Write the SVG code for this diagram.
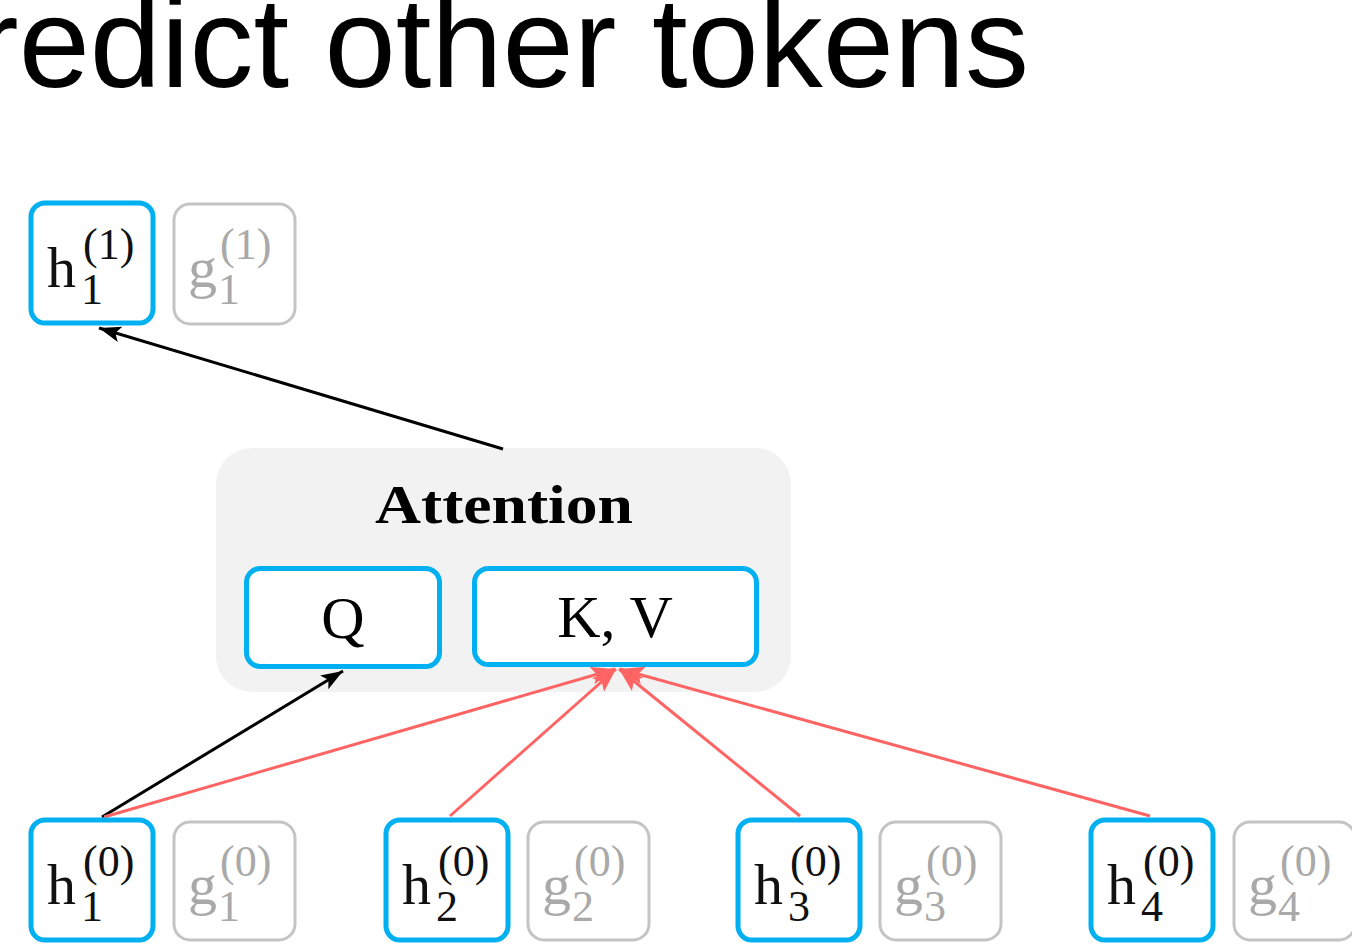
<svg xmlns="http://www.w3.org/2000/svg" width="1352" height="946" viewBox="0 0 1352 946">
  <style>
    .title { font-family: "Liberation Sans", Arial, sans-serif; font-size: 128px; fill: #000; }
    .hbox { fill: #fff; stroke: #00b0f0; stroke-width: 5; }
    .gbox { fill: #fff; stroke: #c4c4c4; stroke-width: 3; }
    .lbl { font-family: "Liberation Serif", "Times New Roman", serif; }
    .main { font-size: 58px; }
    .small { font-size: 44px; }
    .dark { fill: #111; }
    .light { fill: #a9a9a9; }
    .blk { stroke: #000; stroke-width: 3; fill: none; }
    .red { stroke: #ff6464; stroke-width: 3; fill: none; }
    .panel { fill: #f2f2f2; }
    .head { font-family: "Liberation Serif", "Times New Roman", serif; font-size: 54px; font-weight: bold; fill: #000; }
    .qkv { font-family: "Liberation Serif", "Times New Roman", serif; font-size: 60px; fill: #000; }
  </style>
  <defs>
    <marker id="arrBlack" markerUnits="userSpaceOnUse" markerWidth="24" markerHeight="18" refX="22" refY="8" orient="auto">
      <path d="M0,0 L22,8 L0,16 L5,8 z" fill="#000"/>
    </marker>
    <marker id="arrRed" markerUnits="userSpaceOnUse" markerWidth="26" markerHeight="20" refX="24" refY="9" orient="auto">
      <path d="M0,0 L24,9 L0,18 L5,9 z" fill="#ff6464"/>
    </marker>
  </defs>

  <rect width="1352" height="946" fill="#fff"/>

  <text class="title" x="1029" y="87" text-anchor="end">Predict other tokens</text>

  <!-- attention block -->
  <g id="attention">
    <rect class="panel" x="216" y="448" width="575" height="244" rx="36"/>
    <text class="head" x="504" y="523" text-anchor="middle" textLength="258" lengthAdjust="spacingAndGlyphs">Attention</text>
  </g>
  <g id="query">
    <rect class="hbox" x="246.5" y="568.5" width="193" height="98" rx="14"/>
    <text class="qkv" x="343" y="638" text-anchor="middle">Q</text>
  </g>
  <g id="keyvalue">
    <rect class="hbox" x="474.5" y="568.5" width="282" height="96" rx="14"/>
    <text class="qkv" x="615" y="637" text-anchor="middle">K, V</text>
  </g>

  <!-- connectors -->
  <g id="connectors">
    <line class="blk" x1="503" y1="449" x2="99" y2="328" marker-end="url(#arrBlack)"/>
    <line class="blk" x1="102" y1="817" x2="343" y2="671" marker-end="url(#arrBlack)"/>
    <line class="red" x1="104" y1="817" x2="615" y2="669" marker-end="url(#arrRed)"/>
    <line class="red" x1="450" y1="816" x2="616" y2="669" marker-end="url(#arrRed)"/>
    <line class="red" x1="800" y1="816" x2="619" y2="669" marker-end="url(#arrRed)"/>
    <line class="red" x1="1150" y1="816" x2="620" y2="669" marker-end="url(#arrRed)"/>
  </g>

  <!-- layer 1 -->
  <g id="h1_1" transform="translate(31,203)">
    <rect class="hbox" width="122" height="120" rx="14"/>
    <text class="lbl dark main" x="16" y="84">h</text>
    <text class="lbl dark small" x="52" y="56">(1)</text>
    <text class="lbl dark small" x="50" y="101">1</text>
  </g>
  <g id="g1_1" transform="translate(174,204)">
    <rect class="gbox" width="121" height="120" rx="16"/>
    <text class="lbl light main" x="14" y="83">g</text>
    <text class="lbl light small" x="46" y="55">(1)</text>
    <text class="lbl light small" x="44" y="100">1</text>
  </g>

  <!-- layer 0 -->
  <g id="h1_0" transform="translate(31,820)">
    <rect class="hbox" width="122" height="120" rx="14"/>
    <text class="lbl dark main" x="16" y="84">h</text>
    <text class="lbl dark small" x="52" y="56">(0)</text>
    <text class="lbl dark small" x="50" y="101">1</text>
  </g>
  <g id="g1_0" transform="translate(174,822)">
    <rect class="gbox" width="121" height="118" rx="16"/>
    <text class="lbl light main" x="14" y="82">g</text>
    <text class="lbl light small" x="46" y="54">(0)</text>
    <text class="lbl light small" x="44" y="99">1</text>
  </g>

  <g id="h2_0" transform="translate(386,820)">
    <rect class="hbox" width="122" height="120" rx="14"/>
    <text class="lbl dark main" x="16" y="84">h</text>
    <text class="lbl dark small" x="52" y="56">(0)</text>
    <text class="lbl dark small" x="50" y="101">2</text>
  </g>
  <g id="g2_0" transform="translate(528,822)">
    <rect class="gbox" width="121" height="118" rx="16"/>
    <text class="lbl light main" x="14" y="82">g</text>
    <text class="lbl light small" x="46" y="54">(0)</text>
    <text class="lbl light small" x="44" y="99">2</text>
  </g>

  <g id="h3_0" transform="translate(738,820)">
    <rect class="hbox" width="122" height="120" rx="14"/>
    <text class="lbl dark main" x="16" y="84">h</text>
    <text class="lbl dark small" x="52" y="56">(0)</text>
    <text class="lbl dark small" x="50" y="101">3</text>
  </g>
  <g id="g3_0" transform="translate(880,822)">
    <rect class="gbox" width="121" height="118" rx="16"/>
    <text class="lbl light main" x="14" y="82">g</text>
    <text class="lbl light small" x="46" y="54">(0)</text>
    <text class="lbl light small" x="44" y="99">3</text>
  </g>

  <g id="h4_0" transform="translate(1091,820)">
    <rect class="hbox" width="122" height="120" rx="14"/>
    <text class="lbl dark main" x="16" y="84">h</text>
    <text class="lbl dark small" x="52" y="56">(0)</text>
    <text class="lbl dark small" x="50" y="101">4</text>
  </g>
  <g id="g4_0" transform="translate(1234,822)">
    <rect class="gbox" width="121" height="118" rx="16"/>
    <text class="lbl light main" x="14" y="82">g</text>
    <text class="lbl light small" x="46" y="54">(0)</text>
    <text class="lbl light small" x="44" y="99">4</text>
  </g>
</svg>
